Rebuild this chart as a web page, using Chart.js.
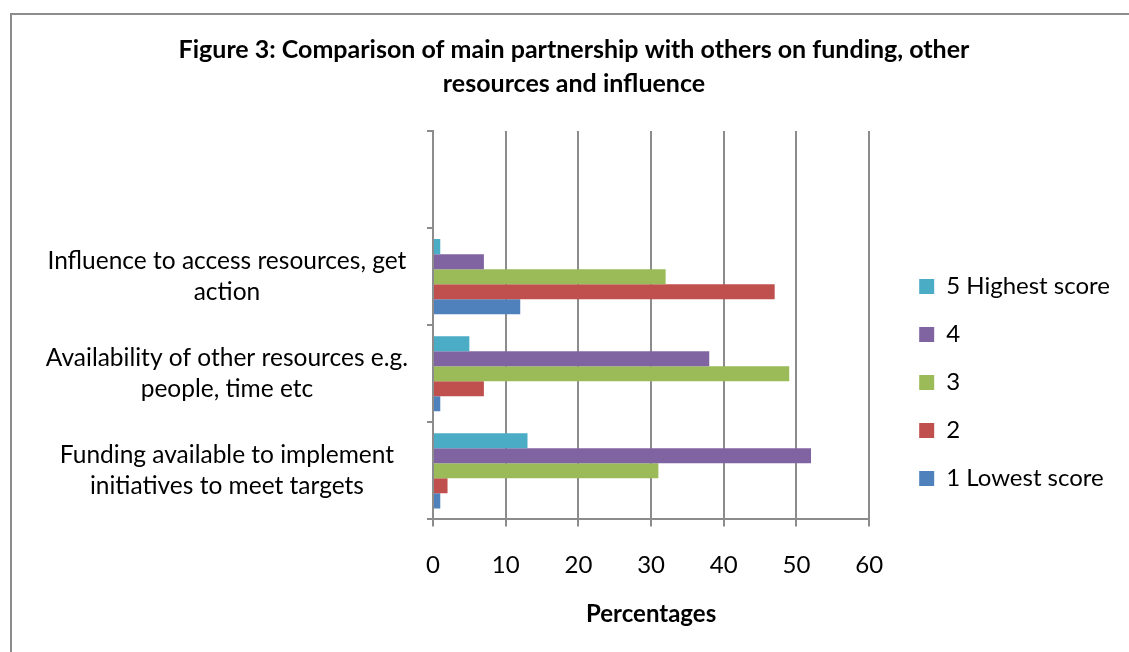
<!DOCTYPE html>
<html>
<head>
<meta charset="utf-8">
<script src="https://cdn.jsdelivr.net/npm/chart.js@4.4.1/dist/chart.umd.min.js"></script>
<style>
  html, body { margin: 0; padding: 0; background: #fff; overflow: hidden; }
  body { width: 1129px; height: 652px; position: relative; }
  .frame { position: absolute; left: 10px; top: 13px; width: 1200px; height: 700px;
           border-left: 2px solid #8c8c8c; border-top: 2px solid #8c8c8c; }
  canvas { position: absolute; left: 0; top: 0; }
</style>
</head>
<body>
<div class="frame"></div>
<canvas id="chart" width="1129" height="652"></canvas>
<script>
// Categories, listed top to bottom (the top slot is left empty)
const categories = [
  '',
  ['Influence to access resources, get', 'action'],
  ['Availability of other resources e.g.', 'people, time etc'],
  ['Funding available to implement', 'initiatives to meet targets']
];

// Percentages per score, same order as categories
const score5 = [null, 1, 5, 13];
const score4 = [null, 7, 38, 52];
const score3 = [null, 32, 49, 31];
const score2 = [null, 47, 7, 2];
const score1 = [null, 12, 1, 1];

const seriesNames = ['5 Highest score', '4', '3', '2', '1 Lowest score'];
const seriesColors = ['#4BACC6', '#8064A2', '#9BBB59', '#C0504D', '#4F81BD'];
const seriesValues = [score5, score4, score3, score2, score1];

const xTicks = [0, 10, 20, 30, 40, 50, 60];

const titleLines = [
  'Figure 3: Comparison of main partnership with others on funding, other',
  'resources and influence'
];
const axisTitle = 'Percentages';

const FONT = 'Lato, "Open Sans", sans-serif';
const gridColor = '#8c8c8c';

// Empty layout box that keeps some room between the plot and the legend,
// and a small upward nudge of the legend column
const legendGap = {
  id: 'legendGap',
  beforeInit(chart) {
    const box = {
      position: 'right',
      weight: 500,
      fullSize: false,
      options: {},
      width: 0, height: 0, left: 0, top: 0, right: 0, bottom: 0,
      update(maxWidth, maxHeight) { this.width = 26; this.height = maxHeight; },
      isHorizontal() { return false; },
      getPadding() { return { left: 0, right: 0, top: 0, bottom: 0 }; },
      draw() {}
    };
    Chart.layouts.addBox(chart, box);
  },
  afterLayout(chart) {
    if (chart.legend) {
      chart.legend.top -= 5;
      chart.legend.bottom -= 5;
    }
  }
};

new Chart(document.getElementById('chart'), {
  type: 'bar',
  data: {
    labels: categories,
    datasets: seriesNames.map((name, i) => ({
      label: name,
      data: seriesValues[i],
      backgroundColor: seriesColors[i],
      borderWidth: 0,
      barPercentage: 1,
      categoryPercentage: 0.773
    }))
  },
  options: {
    indexAxis: 'y',
    responsive: false,
    animation: false,
    layout: { padding: { left: 28, right: 9, top: 0, bottom: 23 } },
    plugins: {
      tooltip: { enabled: false },
      title: {
        display: true,
        text: titleLines,
        color: '#000',
        font: { family: FONT, size: 25, weight: 'bold', lineHeight: 1.36 },
        padding: { top: 33, bottom: 30 }
      },
      legend: {
        position: 'right',
        align: 'end',
        fullSize: false,
        maxWidth: 400,
        labels: {
          boxWidth: 15,
          boxHeight: 15,
          padding: 24,
          color: '#000',
          font: { family: FONT, size: 24 }
        }
      }
    },
    scales: {
      x: {
        min: 0,
        max: 60,
        afterBuildTicks(scale) { scale.ticks = xTicks.map(v => ({ value: v })); },
        ticks: {
          color: '#000',
          padding: 24,
          font: { family: FONT, size: 24 }
        },
        grid: { color: gridColor, lineWidth: 2, tickLength: 7 },
        border: { display: true, color: gridColor, width: 2 },
        title: {
          display: true,
          text: axisTitle,
          color: '#000',
          font: { family: FONT, size: 24, weight: 'bold' },
          padding: { top: -3, bottom: 0 }
        }
      },
      y: {
        type: 'category',
        afterFit(scale) { scale.width = 405; },
        ticks: {
          color: '#000',
          padding: 19,
          crossAlign: 'center',
          font: { family: FONT, size: 24.5, lineHeight: 1.265 }
        },
        grid: { offset: true, drawOnChartArea: false, drawTicks: true, tickLength: 6, color: gridColor, lineWidth: 2 },
        border: { display: true, color: gridColor, width: 2 }
      }
    }
  },
  plugins: [legendGap]
});
</script>
</body>
</html>
